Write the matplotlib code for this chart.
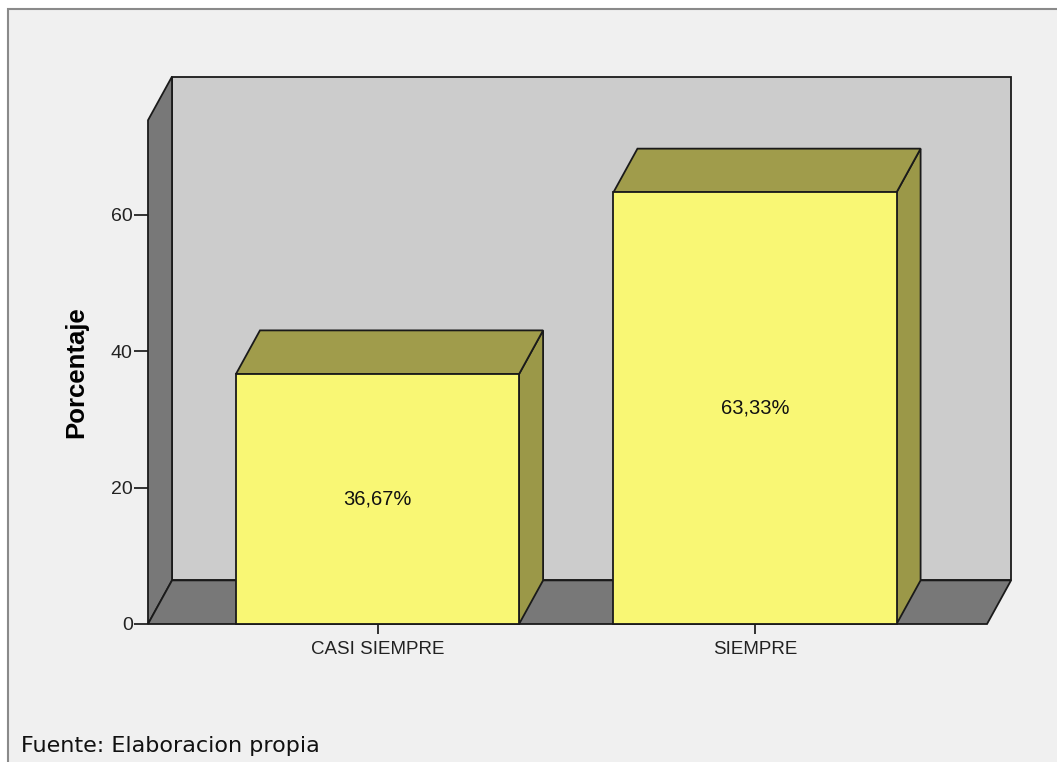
import matplotlib.pyplot as plt
from matplotlib.patches import Polygon, Rectangle

plt.rcParams["font.family"] = ["Liberation Sans", "DejaVu Sans"]

categorias = ["CASI SIEMPRE", "SIEMPRE"]
porcentajes = [36.67, 63.33]
etiquetas = ["36,67%", "63,33%"]
yticks = [0, 20, 40, 60]

# caja 3D al estilo SPSS
x0, x1 = -0.608, 1.6146     # borde frontal del suelo
ytop = 73.9                 # alto de la pared izquierda
dx, dy = 0.0636, 6.4        # desplazamiento de profundidad
ancho = 0.75

c_fondo = "#cccccc"
c_pared = "#787878"
c_frente = "#f9f774"
c_arriba = "#a09c4b"
c_lado = "#9b9848"
borde = "#1a1a1a"

fig = plt.figure(figsize=(10.57, 7.62), dpi=100)
fig.patch.set_facecolor("white")

# marco gris del visor
fig.patches.append(Rectangle((8 / 1057, -0.1), 1.2, 1.1 - 9 / 762, transform=fig.transFigure,
                             facecolor="#f0f0f0", edgecolor="#8a8a8a", lw=1.5, zorder=-5))

ax = fig.add_axes([148 / 1057, 1 - 624 / 762, (1010 - 148) / 1057, (624 - 77) / 762])
ax.set_xlim(x0, x0 + (1010 - 148) / 377.5)
ax.set_ylim(0, 547 / 6.817)
ax.patch.set_visible(False)
for s in ax.spines.values():
    s.set_visible(False)

def poly(pts, color, z):
    ax.add_patch(Polygon(pts, closed=True, facecolor=color, edgecolor=borde,
                         lw=1.3, zorder=z, clip_on=False, joinstyle="miter"))

# paredes y suelo
poly([(x0 + dx, dy), (x1 + dx, dy), (x1 + dx, ytop + dy), (x0 + dx, ytop + dy)], c_fondo, 1)
poly([(x0, 0), (x0 + dx, dy), (x0 + dx, ytop + dy), (x0, ytop)], c_pared, 2)
poly([(x0, 0), (x1, 0), (x1 + dx, dy), (x0 + dx, dy)], c_pared, 2)

for i, (h, txt) in enumerate(zip(porcentajes, etiquetas)):
    l, r = i - ancho / 2, i + ancho / 2
    poly([(r, 0), (r + dx, dy), (r + dx, h + dy), (r, h)], c_lado, 3)
    poly([(l, h), (r, h), (r + dx, h + dy), (l + dx, h + dy)], c_arriba, 3)
    poly([(l, 0), (r, 0), (r, h), (l, h)], c_frente, 4)
    ax.text(i, h / 2, txt, ha="center", va="center", fontsize=14.5,
            color="#111111", zorder=5)

ax.set_xticks(range(len(categorias)))
ax.set_xticklabels(categorias, fontsize=13.5, color="#222222")
ax.set_yticks(yticks)
ax.set_yticklabels([str(v) for v in yticks], fontsize=14, color="#222222")
ax.tick_params(axis="x", length=7, width=1.3, color="#222222", pad=5)
ax.tick_params(axis="y", length=10, width=1.3, color="#222222", pad=1)
ax.set_ylabel("Porcentaje", fontsize=18.5, fontweight="bold")
# centrado sobre el eje frontal (0 a ytop)
ax.yaxis.set_label_coords(-(148 - 88) / (1010 - 148), (ytop / 2) / (547 / 6.817))

fig.text(21 / 1057, 1 - 746 / 762, "Fuente: Elaboracion propia", fontsize=16,
         family="DejaVu Sans", color="#111111", va="center", ha="left")

fig.savefig("out.png", dpi=100, facecolor=fig.get_facecolor())
